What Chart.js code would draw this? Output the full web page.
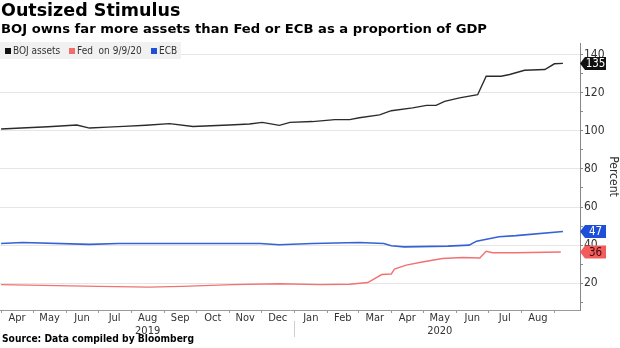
<!DOCTYPE html>
<html>
<head>
<meta charset="utf-8">
<script src="https://cdn.jsdelivr.net/npm/chart.js@4.4.1/dist/chart.umd.min.js"></script>
<style>
  html, body { margin: 0; padding: 0; background: #fff; }
  #wrap { position: relative; width: 620px; height: 348px; overflow: hidden; font-family: 'DejaVu Sans', sans-serif; }
  #chart { position: absolute; left: 0; top: 0; }
  .title { position: absolute; left: 1px; top: 0px; font-weight: bold; font-size: 17.5px; color: #000; white-space: nowrap; }
  .subtitle { position: absolute; left: 1px; top: 21px; font-weight: bold; font-size: 13.15px; color: #000; white-space: nowrap; }
  .source { position: absolute; left: 2px; top: 333px; font-family: 'DejaVu Sans Condensed', 'DejaVu Sans', sans-serif;
            font-weight: bold; font-size: 10.2px; color: #000; white-space: nowrap; }
  .legend { position: absolute; left: 0; top: 42px; width: 181px; height: 17px; background: #f1f1f1;
            font-family: 'DejaVu Sans Condensed', 'DejaVu Sans', sans-serif; font-size: 10px; color: #333; white-space: nowrap; }
  .legend span { position: absolute; top: 3px; }
  .legend i { display: inline-block; width: 6px; height: 6px; margin-right: 2px; vertical-align: 0px; }
</style>
</head>
<body>
<div id="wrap">
  <canvas id="chart" width="620" height="348"></canvas>
  <div class="title">Outsized Stimulus</div>
  <div class="subtitle">BOJ owns far more assets than Fed or ECB as a proportion of GDP</div>
  <div class="legend">
    <span style="left:5px"><i style="background:#111"></i>BOJ assets</span>
    <span style="left:69px"><i style="background:#f26d6d"></i>Fed&nbsp; on 9/9/20</span>
    <span style="left:151px"><i style="background:#1f4fd8"></i>ECB</span>
  </div>
  <div class="source">Source: Data compiled by Bloomberg</div>
</div>
<script>
const START = Date.UTC(2019, 3, 1);
const DAY = 86400000;
const toDay = s => (Date.parse(s + 'T00:00:00Z') - START) / DAY;

const monthStarts = ['2019-04-01', '2019-05-01', '2019-06-01', '2019-07-01', '2019-08-01', '2019-09-01',
  '2019-10-01', '2019-11-01', '2019-12-01', '2020-01-01', '2020-02-01', '2020-03-01', '2020-04-01',
  '2020-05-01', '2020-06-01', '2020-07-01', '2020-08-01', '2020-09-01'];
// year shown as a second line under one month in each year
const monthLabels = ['Apr', 'May', 'Jun', 'Jul', ['Aug', '2019'], 'Sep', 'Oct', 'Nov', 'Dec',
  'Jan', 'Feb', 'Mar', 'Apr', ['May', '2020'], 'Jun', 'Jul', 'Aug'];
const yearBreak = '2020-01-01';

const bojDates = ['2019-04-01', '2019-04-20', '2019-05-15', '2019-06-11', '2019-06-23', '2019-07-10',
  '2019-07-25', '2019-08-15', '2019-09-06', '2019-09-28', '2019-10-15', '2019-11-01', '2019-11-20',
  '2019-12-02', '2019-12-18', '2019-12-28', '2020-01-18', '2020-02-08', '2020-02-22', '2020-03-02',
  '2020-03-21', '2020-04-01', '2020-04-21', '2020-05-04', '2020-05-13', '2020-05-21', '2020-06-04',
  '2020-06-21', '2020-06-29', '2020-07-13', '2020-07-21', '2020-08-04', '2020-08-23', '2020-09-01',
  '2020-09-09'];
const bojValues = [100.9, 101.4, 102.1, 103.0, 101.4, 101.9,
  102.3, 102.9, 103.7, 102.2, 102.6, 103.0, 103.5,
  104.4, 102.8, 104.4, 104.8, 105.8, 105.8, 106.8,
  108.3, 110.5, 112.0, 113.3, 113.3, 115.4, 117.2,
  118.9, 128.6, 128.6, 129.5, 131.7, 132.1, 135.1,
  135.3];

const fedDates = ['2019-04-01', '2019-07-02', '2019-08-18', '2019-09-18', '2019-11-04', '2019-12-18',
  '2020-01-25', '2020-02-22', '2020-03-10', '2020-03-23', '2020-04-01', '2020-04-04', '2020-04-15',
  '2020-04-30', '2020-05-19', '2020-06-07', '2020-06-23', '2020-06-29', '2020-07-05', '2020-07-26',
  '2020-09-07'];
const fedValues = [19.3, 18.4, 18.0, 18.4, 19.3, 19.8,
  19.3, 19.5, 20.4, 24.6, 24.9, 27.4, 29.5,
  31.2, 33.0, 33.5, 33.3, 36.8, 36.0, 36.0,
  36.4];

const ecbDates = ['2019-04-01', '2019-04-21', '2019-06-23', '2019-07-20', '2019-11-30', '2019-12-18',
  '2020-01-18', '2020-03-02', '2020-03-25', '2020-04-01', '2020-04-13', '2020-05-24', '2020-06-13',
  '2020-06-20', '2020-07-11', '2020-07-27', '2020-09-09'];
const ecbValues = [40.9, 41.4, 40.4, 40.9, 40.9, 40.2,
  40.9, 41.4, 40.9, 39.7, 39.1, 39.5, 40.0,
  42.1, 44.4, 45.0, 47.2];

const yTicks = [10, 20, 30, 40, 50, 60, 70, 80, 90, 100, 110, 120, 130, 140];

const toPoints = (dates, values) => dates.map((d, i) => ({ x: toDay(d), y: values[i] }));

const startTicks = monthStarts.map(toDay);
const midTicks = startTicks.slice(0, -1).map((v, i) => (v + startTicks[i + 1]) / 2);
const labelAt = new Map(midTicks.map((v, i) => [v, monthLabels[i]]));
const isStart = v => startTicks.includes(v);

const endTags = {
  id: 'endTags',
  afterDraw(chart) {
    const { ctx, chartArea } = chart;
    const y = chart.scales.y;
    const x = chart.scales.x;
    // year separator under the axis
    const bx = Math.round(x.getPixelForValue(toDay(yearBreak))) + 0.5;
    ctx.save();
    ctx.strokeStyle = '#cfcfcf';
    ctx.lineWidth = 1;
    ctx.beginPath();
    ctx.moveTo(bx, chartArea.bottom + 11);
    ctx.lineTo(bx, chartArea.bottom + 27);
    ctx.stroke();
    chart.data.datasets.forEach(ds => {
      const last = ds.data[ds.data.length - 1].y;
      const py = y.getPixelForValue(last);
      const left = chartArea.right;
      const h = 13;
      ctx.fillStyle = ds.tagColor;
      ctx.beginPath();
      ctx.moveTo(left, py);
      ctx.lineTo(left + 5, py - h / 2);
      ctx.lineTo(left + 26, py - h / 2);
      ctx.lineTo(left + 26, py + h / 2);
      ctx.lineTo(left + 5, py + h / 2);
      ctx.closePath();
      ctx.fill();
      ctx.fillStyle = ds.tagText;
      ctx.font = '11.5px "DejaVu Sans Condensed", "DejaVu Sans", sans-serif';
      ctx.textAlign = 'center';
      ctx.textBaseline = 'middle';
      ctx.fillText(String(Math.round(last)), left + 15.5, py + 0.5);
    });
    ctx.restore();
  }
};

new Chart(document.getElementById('chart'), {
  type: 'line',
  data: {
    datasets: [
      { label: 'BOJ assets', data: toPoints(bojDates, bojValues), borderColor: '#2b2b2b', borderWidth: 1.4,
        tagColor: '#111', tagText: '#fff' },
      { label: 'Fed on 9/9/20', data: toPoints(fedDates, fedValues), borderColor: '#f27272', borderWidth: 1.4,
        tagColor: '#f25c5c', tagText: '#3a0a0a' },
      { label: 'ECB', data: toPoints(ecbDates, ecbValues), borderColor: '#3562d4', borderWidth: 1.6,
        tagColor: '#1f4fd8', tagText: '#fff' },
    ],
  },
  options: {
    responsive: false,
    animation: false,
    layout: { padding: { top: 43, left: 0, right: 0, bottom: 0 } },
    elements: { point: { radius: 0 }, line: { tension: 0 } },
    plugins: { legend: { display: false }, tooltip: { enabled: false } },
    scales: {
      x: {
        type: 'linear',
        min: -1,
        max: 543,
        afterBuildTicks: s => { s.ticks = [...startTicks, ...midTicks].sort((a, b) => a - b).map(v => ({ value: v })); },
        afterFit: s => { s.height = 38; },
        grid: {
          drawOnChartArea: false,
          tickLength: 3,
          tickColor: c => (c.tick && isStart(c.tick.value)) ? '#999' : 'rgba(0,0,0,0)',
        },
        border: { color: '#9a9a9a' },
        ticks: {
          autoSkip: false,
          maxRotation: 0,
          padding: -2,
          color: '#333',
          font: { family: "'DejaVu Sans Condensed', 'DejaVu Sans', sans-serif", size: 11, lineHeight: 1.25 },
          callback: v => labelAt.has(v) ? labelAt.get(v) : '',
        },
      },
      y: {
        position: 'right',
        min: 6,
        max: 146,
        afterBuildTicks: s => { s.ticks = yTicks.map(v => ({ value: v })); },
        afterFit: s => { s.width = 40; },
        grid: {
          color: c => (c.tick && c.tick.value % 20 === 0) ? '#e6e6e6' : 'rgba(0,0,0,0)',
          tickColor: '#888',
          tickLength: 3,
        },
        border: { color: '#888' },
        ticks: {
          padding: 1,
          color: '#333',
          font: { family: "'DejaVu Sans Condensed', 'DejaVu Sans', sans-serif", size: 12 },
          callback: v => v % 20 === 0 ? v : '',
        },
        title: {
          display: true,
          text: 'Percent',
          color: '#333',
          padding: 0,
          font: { family: "'DejaVu Sans Condensed', 'DejaVu Sans', sans-serif", size: 12 },
        },
      },
    },
  },
  plugins: [endTags],
});
</script>
</body>
</html>
